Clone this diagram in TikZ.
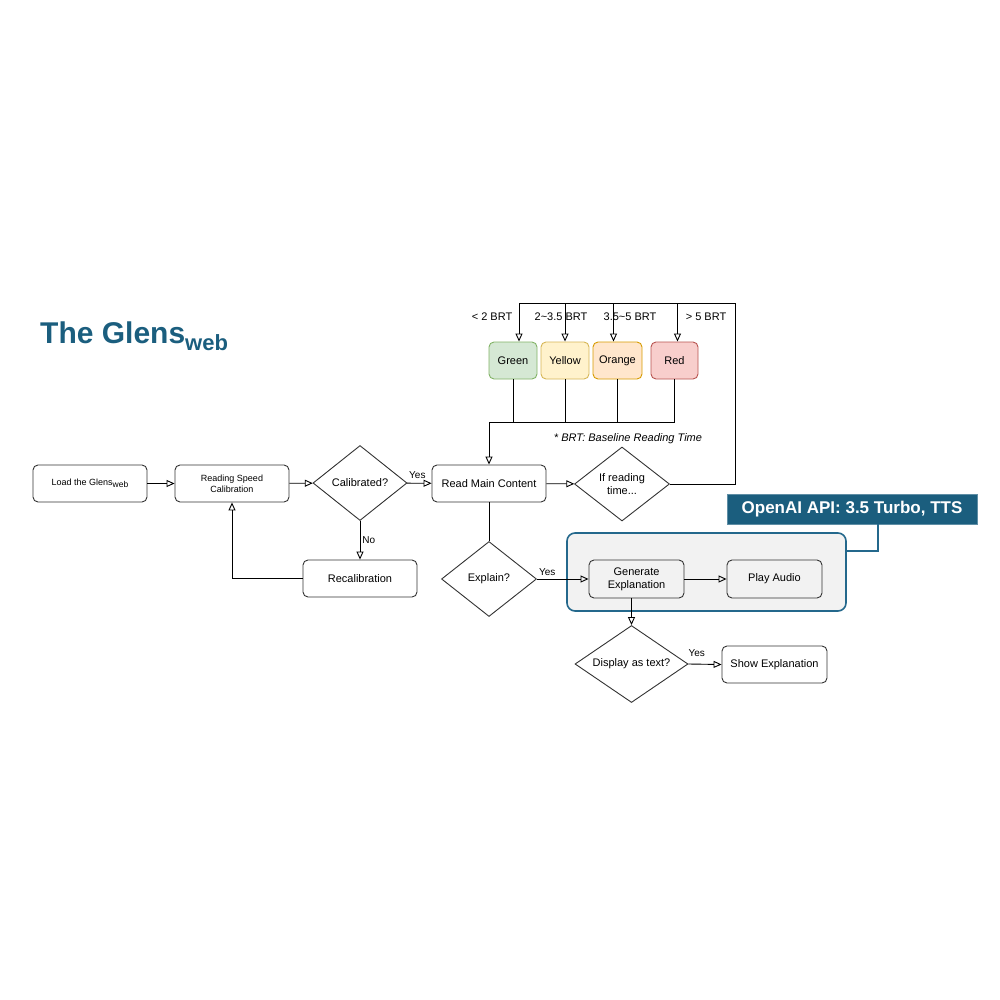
\documentclass[tikz,border=0pt]{standalone}
\usepackage{fontspec}
\setmainfont{Liberation Sans}
\usetikzlibrary{shapes.geometric,arrows.meta}

\definecolor{glensblue}{RGB}{27,94,126}
\definecolor{zoneline}{RGB}{36,104,140}
\definecolor{zonefill}{RGB}{242,242,242}

\tikzset{
  proc/.style={draw=black!80, line width=0.9pt, rounded corners=5pt, fill=white,
    minimum width=114pt, minimum height=37pt, inner sep=0pt, align=center,
    font=\fontsize{11}{13}\selectfont},
  smallproc/.style={proc, font=\fontsize{9}{11}\selectfont},
  decide/.style={draw=black!80, line width=0.9pt, diamond, shape aspect=1.5, fill=white,
    minimum width=95pt, minimum height=75pt, inner sep=0pt, align=center,
    font=\fontsize{11}{13}\selectfont},
  level/.style={proc, minimum width=48pt},
  link/.style={-{Triangle[open,length=8pt,width=7pt]}, line width=0.9pt},
  wire/.style={line width=0.9pt},
  lbl/.style={inner sep=0pt, font=\fontsize{10}{12}\selectfont},
  brt/.style={inner sep=0pt, font=\fontsize{11}{13}\selectfont}
}

\begin{document}
\begin{tikzpicture}[x=1pt, y=-1pt]
  \useasboundingbox (0,0) rectangle (1000,1000);

  % titulo
  \node[anchor=base west, inner sep=0pt, text=glensblue, font=\bfseries\fontsize{30}{36}\selectfont] (title) at (40,343)
    {The Glens\raisebox{-7pt}{\fontsize{22}{24}\selectfont web}};

  % calibracion
  \node[smallproc] (load) at (90,483.5) {Load the Glens\raisebox{-2.5pt}{\fontsize{8.5}{10}\selectfont web}};
  \node[smallproc] (rsc) at (232,483.5) {Reading Speed\\Calibration};
  \node[decide, minimum width=94pt] (calib) at (360,483) {Calibrated?};
  \node[proc] (recal) at (360,578.5) {Recalibration};

  % lectura
  \node[proc] (rmc) at (489,483.5) {Read Main Content};
  \node[decide, minimum height=74pt] (ifread) at (622,484) {If reading\\time...};

  \node[level, draw={rgb,255:red,130;green,179;blue,102}, fill={rgb,255:red,213;green,232;blue,212}] (green) at (513,360.5) {Green};
  \node[level, draw={rgb,255:red,214;green,182;blue,86}, fill={rgb,255:red,255;green,242;blue,204}] (yellow) at (565,360.5) {Yellow};
  \node[level, minimum width=49pt, draw={rgb,255:red,215;green,155;blue,0}, fill={rgb,255:red,255;green,230;blue,204}] (orange) at (617.5,360.5) {Orange};
  \node[level, minimum width=47pt, draw={rgb,255:red,184;green,84;blue,80}, fill={rgb,255:red,248;green,206;blue,204}] (red) at (674.5,360.5) {Red};

  \node[brt] (lt2) at (492,317) {< 2 BRT};
  \node[brt] (mid1) at (561,317) {2\textasciitilde3.5 BRT};
  \node[brt] (mid2) at (630,317) {3.5\textasciitilde5 BRT};
  \node[brt] (gt5) at (706,317) {> 5 BRT};
  \node[brt, font=\itshape\fontsize{11}{13}\selectfont] (note) at (628,439) {* BRT: Baseline Reading Time};

  \coordinate (top) at (735,303);
  \coordinate (bus) at (489,422);

  % explicacion
  \node[decide] (explain) at (489,579) {Explain?};
  \node[draw=zoneline, line width=1.6pt, fill=zonefill, rounded corners=8pt,
    minimum width=279pt, minimum height=78pt, inner sep=0pt] (zone) at (706.5,572) {};
  \node[proc, fill=zonefill, minimum width=95pt, minimum height=38pt] (gen) at (636.5,579) {Generate\\Explanation};
  \node[proc, fill=zonefill, minimum width=95pt, minimum height=38pt] (play) at (774.5,579) {Play Audio};
  \node[fill=glensblue, draw=glensblue!70!white, minimum width=250pt, minimum height=30pt, inner sep=0pt,
    text=white, font=\bfseries\fontsize{17}{20}\selectfont] (api) at (852,509) {OpenAI API: 3.5 Turbo, TTS};
  \coordinate (apiknee) at (878,551);
  \node[decide, minimum width=113pt, minimum height=77pt] (disp) at (631.5,664) {Display as text?};
  \node[proc, minimum width=105pt] (show) at (774.5,664.5) {Show Explanation};

  % conectores
  \draw[link] (load) -- (rsc);
  \draw[link] (rsc) -- (calib);
  \draw[link] (calib) -- node[lbl, anchor=south, yshift=4pt, xshift=-2pt] {Yes} (rmc);
  \draw[link] (calib) -- node[lbl, anchor=west, xshift=2pt] {No} (recal);
  \draw[link] (recal.west) -| (rsc.south);
  \draw[link] (rmc) -- (ifread);

  \draw[wire] (ifread.east) -| (top) -- ([xshift=6pt]green.north |- top);
  \draw[link] ([xshift=6pt]green.north |- top) -- ([xshift=6pt]green.north);
  \draw[link] (yellow.north |- top) -- (yellow.north);
  \draw[link] ([xshift=-4pt]orange.north |- top) -- ([xshift=-4pt]orange.north);
  \draw[link] ([xshift=3pt]red.north |- top) -- ([xshift=3pt]red.north);

  \draw[wire] (green.south) -- (green.south |- bus);
  \draw[wire] (yellow.south) -- (yellow.south |- bus);
  \draw[wire] (orange.south) -- (orange.south |- bus);
  \draw[wire] (red.south) -- (red.south |- bus) -- (bus);
  \draw[link] (bus) -- (rmc.north);

  \draw[wire] (rmc.south) -- (explain.north);
  \draw[link] (explain.east) -- node[lbl, anchor=south, pos=0.2, yshift=3pt] {Yes} (gen.west);
  \draw[link] (gen) -- (play);
  \draw[draw=zoneline, line width=1.6pt] (api.south -| apiknee) -- (apiknee) -- (apiknee -| zone.east);
  \draw[link] (disp.north |- gen.south) -- (disp.north);
  \draw[link] (disp.east) -- node[lbl, anchor=south, pos=0.25, yshift=7pt] {Yes} (show.west);
\end{tikzpicture}
\end{document}
